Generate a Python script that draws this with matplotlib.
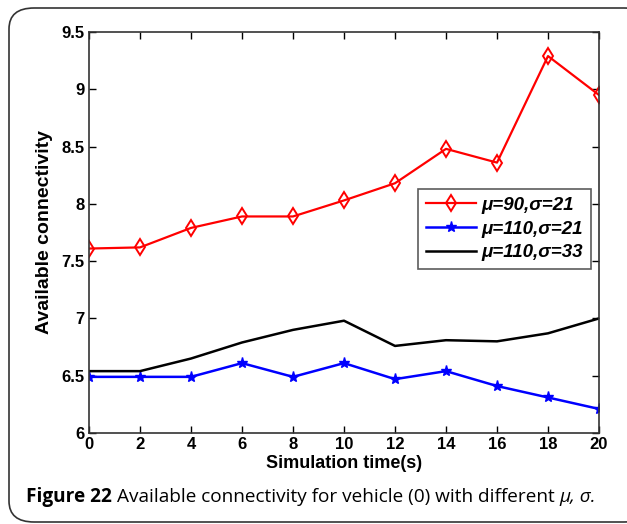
import matplotlib
matplotlib.use('Agg')
from matplotlib import pyplot as plt
from matplotlib.patches import FancyBboxPatch

# data
times = [0, 2, 4, 6, 8, 10, 12, 14, 16, 18, 20]
conn_90_21 = [7.61, 7.62, 7.79, 7.89, 7.89, 8.03, 8.18, 8.48, 8.36, 9.29, 8.95]
conn_110_21 = [6.49, 6.49, 6.49, 6.61, 6.49, 6.61, 6.47, 6.54, 6.41, 6.31, 6.21]
conn_110_33 = [6.54, 6.54, 6.65, 6.79, 6.90, 6.98, 6.76, 6.81, 6.80, 6.87, 7.00]

labels = ['μ=90,σ=21', 'μ=110,σ=21', 'μ=110,σ=33']
yticks = [6, 6.5, 7, 7.5, 8, 8.5, 9, 9.5]
ytick_labels = ['6', '6.5', '7', '7.5', '8', '8.5', '9', '9.5']

plt.rcParams['font.family'] = ['Liberation Sans', 'DejaVu Sans']

fig = plt.figure(figsize=(6.27, 5.24), dpi=100)

# rounded frame round the whole figure
frame = FancyBboxPatch((9 / 627, 2 / 524), 640 / 627, 514 / 524,
                       boxstyle='round,pad=0,rounding_size=0.04',
                       transform=fig.transFigure, facecolor='white',
                       edgecolor='#333333', linewidth=1.2, zorder=-10)
fig.patches.append(frame)

ax = fig.add_axes([89 / 627, 1 - 433 / 524, 510 / 627, 401 / 524])

ax.plot(times, conn_90_21, color='red', marker='d', markersize=8,
        markerfacecolor='none', markeredgewidth=1.4, linewidth=1.6, label=labels[0])
ax.plot(times, conn_110_21, color='blue', marker='*', markersize=8,
        linewidth=1.8, label=labels[1])
ax.plot(times, conn_110_33, color='black', linewidth=1.8, label=labels[2])

ax.set_xlim(0, 20)
ax.set_ylim(6, 9.5)
ax.set_xticks(times)
ax.set_yticks(yticks)
ax.set_yticklabels(ytick_labels)
ax.tick_params(direction='in', top=True, right=True, length=5, width=1,
               labelsize=12, pad=3)
for lab in ax.get_xticklabels() + ax.get_yticklabels():
    lab.set_fontweight('bold')
for sp in ax.spines.values():
    sp.set_linewidth(1.2)
    sp.set_color('#333333')

ax.set_xlabel('Simulation time(s)', fontsize=13, fontweight='bold', labelpad=2)
ax.set_ylabel('Available connectivity', fontsize=14, fontweight='bold', labelpad=6)

leg = ax.legend(loc='upper right', bbox_to_anchor=(0.984, 0.608),
                borderaxespad=0,
                prop={'size': 13.5, 'style': 'italic', 'weight': 'bold'},
                frameon=True, fancybox=False, edgecolor='#333333',
                handlelength=2.7, borderpad=0.4, labelspacing=0.35,
                handletextpad=0.3)
leg.get_frame().set_linewidth(1.2)

# caption: bold lead-in, then regular text
cap_font = ['Open Sans', 'DejaVu Sans']
cap_y = 1 - 497 / 524
t1 = fig.text(26 / 627, cap_y, 'Figure 22 ', fontsize=13.7, fontweight='bold',
              family=cap_font, va='center', ha='left')
fig.canvas.draw()
x1 = fig.transFigure.inverted().transform(t1.get_window_extent().get_points())[1, 0]
t2 = fig.text(x1, cap_y, 'Available connectivity for vehicle (0) with different ',
              fontsize=13.7, family=cap_font, va='center', ha='left')
fig.canvas.draw()
x2 = fig.transFigure.inverted().transform(t2.get_window_extent().get_points())[1, 0]
fig.text(x2, cap_y, 'μ, σ.', fontsize=13.7, family=cap_font, style='italic',
         va='center', ha='left')

fig.savefig('out.png', dpi=100)
